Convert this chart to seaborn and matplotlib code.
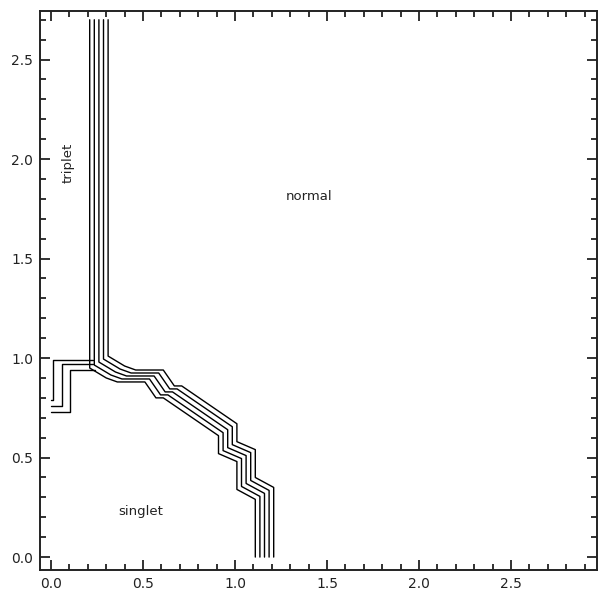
import numpy as np
import pandas as pd
import matplotlib
matplotlib.use("Agg")
import matplotlib.pyplot as plt
from matplotlib.ticker import MultipleLocator
import seaborn as sns

# Phase boundary (lowest / leftmost member of the family)
boundary_x = [0.21, 0.21, 0.30, 0.36, 0.51, 0.57, 0.61, 0.91, 0.91, 1.01, 1.01, 1.11, 1.11]
boundary_y = [2.70, 0.95, 0.90, 0.88, 0.88, 0.80, 0.80, 0.61, 0.52, 0.48, 0.34, 0.29, 0.00]
n_boundaries = 5
step_x = 0.025
step_y = 0.015

# Triplet pocket boundaries near the y axis
pocket_vert_x = [0.010, 0.058, 0.103]
pocket_top_y = [0.99, 0.97, 0.94]
pocket_foot_y = [0.79, 0.76, 0.73]
pocket_end_x = [0.23, 0.23, 0.24]

region_labels = ["triplet", "normal", "singlet"]
region_x = [0.09, 1.40, 0.49]
region_y = [1.98, 1.81, 0.23]
region_rot = [90, 0, 0]

rows = []
for k in range(n_boundaries):
    xs = np.array(boundary_x) + k * step_x
    ys = np.array(boundary_y) + k * step_y
    ys[0] = boundary_y[0]
    ys[-1] = boundary_y[-1]
    for i, (x, y) in enumerate(zip(xs, ys)):
        rows.append({"line": f"b{k}", "order": i, "x": x, "y": y})
for j in range(len(pocket_vert_x)):
    px = [0.0, pocket_vert_x[j], pocket_vert_x[j], pocket_end_x[j]]
    py = [pocket_foot_y[j], pocket_foot_y[j], pocket_top_y[j], pocket_top_y[j]]
    for i, (x, y) in enumerate(zip(px, py)):
        rows.append({"line": f"p{j}", "order": i, "x": x, "y": y})
df = pd.DataFrame(rows)

sns.set_theme(style="white")
plt.rcParams["font.family"] = ["DejaVu Sans"]

fig = plt.figure(figsize=(6.01, 5.91), dpi=100)
ax = fig.add_axes([0.0666, 0.0355, 0.9267, 0.9459])

sns.lineplot(data=df, x="x", y="y", units="line", estimator=None, sort=False,
             color="black", linewidth=1.0, ax=ax, legend=False)

for lab, x, y, r in zip(region_labels, region_x, region_y, region_rot):
    ax.text(x, y, lab, rotation=r, ha="center", va="center", fontsize=9.5, color="#222222")

ax.set_xlim(-0.06, 2.967)
ax.set_ylim(-0.065, 2.744)
ax.set_xlabel("")
ax.set_ylabel("")
ax.xaxis.set_major_locator(MultipleLocator(0.5))
ax.xaxis.set_minor_locator(MultipleLocator(0.1))
ax.yaxis.set_major_locator(MultipleLocator(0.5))
ax.yaxis.set_minor_locator(MultipleLocator(0.1))
ax.xaxis.set_major_formatter(matplotlib.ticker.FormatStrFormatter("%.1f"))
ax.yaxis.set_major_formatter(matplotlib.ticker.FormatStrFormatter("%.1f"))
ax.tick_params(which="both", direction="in", top=True, right=True, bottom=True, left=True,
               color="#222222", width=1.3, labelsize=10, labelcolor="#222222")
ax.tick_params(which="major", length=7, pad=5)
ax.tick_params(which="minor", length=4)
for s in ax.spines.values():
    s.set_color("#222222")
    s.set_linewidth(1.4)

fig.savefig("out.png", dpi=100)
